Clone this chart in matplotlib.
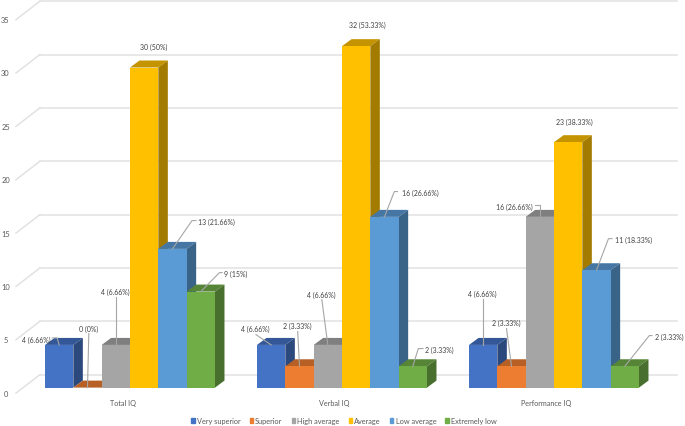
import matplotlib
matplotlib.use("Agg")
import matplotlib.pyplot as plt
from matplotlib.patches import Patch
from matplotlib.colors import to_rgb

plt.rcParams['font.family'] = ['Lato', 'DejaVu Sans']

groups = ["Total IQ", "Verbal IQ", "Performance IQ"]
series = ["Very superior", "Superior", "High average", "Average", "Low average", "Extremely low"]
colors = ["#4472C4", "#ED7D31", "#A5A5A5", "#FFC000", "#5B9BD5", "#70AD47"]

very_superior = [4, 4, 4]
superior = [0, 2, 2]
high_average = [4, 4, 16]
average = [30, 32, 23]
low_average = [13, 16, 11]
extremely_low = [9, 2, 2]
values = [very_superior, superior, high_average, average, low_average, extremely_low]

very_superior_txt = ["4 (6.66%)", "4 (6.66%)", "4 (6.66%)"]
superior_txt = ["0 (0%)", "2 (3.33%)", "2 (3.33%)"]
high_average_txt = ["4 (6.66%)", "4 (6.66%)", "16 (26.66%)"]
average_txt = ["30 (50%)", "32 (53.33%)", "23 (38.33%)"]
low_average_txt = ["13 (21.66%)", "16 (26.66%)", "11 (18.33%)"]
extremely_low_txt = ["9 (15%)", "2 (3.33%)", "2 (3.33%)"]
texts = [very_superior_txt, superior_txt, high_average_txt, average_txt, low_average_txt, extremely_low_txt]

yticks = [0, 5, 10, 15, 20, 25, 30, 35]

# pixel scale of the picture
W, H = 685, 427
PX_UNIT = 10.67    # pixels per IQ count
PX_GROUP = 212     # pixels between groups
FLOOR = 388.6      # pixel row of value 0 on the front plane
GROUP0 = 130       # pixel column of first group centre
BAR = 28.33 / PX_GROUP
DX = 9.5 / PX_GROUP
DY = 7 / PX_UNIT


def ox(px):
    return px / PX_GROUP


def oy(px):
    return -px / PX_UNIT


fig = plt.figure(figsize=(W / 100, H / 100), dpi=100)
ax = fig.add_axes([0, 0, 1, 1])
ax.set_xlim(-GROUP0 / PX_GROUP, (W - GROUP0) / PX_GROUP)
ax.set_ylim((FLOOR - H) / PX_UNIT, FLOOR / PX_UNIT)
ax.axis('off')

# back wall and floor lines
left = ox(40 - GROUP0)
right = ox(677 - GROUP0)
for v in yticks:
    yb = v + 13 / PX_UNIT
    ax.plot([left, right], [yb, yb], color="#E2E2E2", lw=1.1, zorder=1)
    ax.plot([ox(16 - GROUP0), left], [v - 5.5 / PX_UNIT, yb], color="#E2E2E2", lw=1.1, zorder=1)
    ax.text(ox(5.5 - GROUP0), v - 5.5 / PX_UNIT, str(v), color="#595959", fontsize=5.4,
            ha='center', va='center', zorder=5)

# left to right so each bar covers the side of the one before
z = 2
for g in range(len(groups)):
    for s in range(len(series)):
        v = values[s][g]
        x0 = g + (s - 3) * BAR
        x1 = x0 + BAR
        c = to_rgb(colors[s])
        top = tuple(i * 0.77 for i in c)
        side = tuple(i * 0.64 for i in c)
        ax.fill([x0, x1, x1 + DX, x0 + DX], [v, v, v + DY, v + DY], color=top, lw=0, zorder=z)
        ax.fill([x1, x1 + DX, x1 + DX, x1], [0, DY, v + DY, v], color=side, lw=0, zorder=z)
        ax.fill([x0, x1, x1, x0], [0, 0, v, v], color=c, lw=0, zorder=z)
        z += 0.01

# label offset from the top centre of each bar (pixels): text, then leader bends
label_pos = [
    [((-23, -6), [(-2, -7), (-7, -7)]), ((1, -59.5), [(1.3, -54)]), ((-1, -53.6), [(0, -48)]),
     ((10, -21.3), []), ((43.5, -27.8), [(19.5, -28.3), (23.5, -28.3)]), ((35.2, -18), [(18.7, -19), (21.2, -19)])],
    [((-16.2, -16.6), [(-15.2, -10.3)]), ((-1.8, -40.4), [(-1.8, -34.7)]), ((-6.5, -50.6), [(-6, -45.3)]),
     ((11.5, -21.6), []), ((35.5, -24.6), [(9.8, -25.3), (13, -25.3)]), ((26.5, -16.7), [(5.5, -17.7), (10.2, -17.7)])],
    [((-0.5, -52), [(0, -46.3)]), ((-5.2, -44), [(-5, -37.7)]), ((-25.8, -10.6), [(0, -11.8), (-4.8, -11.8)]),
     ((5.8, -20.3), []), ((37.2, -30.6), [(12, -31.6), (15.5, -31.6)]), ((44.5, -30), [(24.5, -30.7), (27.2, -30.7)])],
]

for g in range(len(groups)):
    for s in range(len(series)):
        xc = g + (s - 2.5) * BAR
        v = values[s][g]
        (tx, ty), bends = label_pos[g][s]
        if bends:
            xs = [xc] + [xc + ox(b[0]) for b in bends]
            ys = [v] + [v + oy(b[1]) for b in bends]
            ax.plot(xs, ys, color="#A6A6A6", lw=0.8, zorder=4)
        ax.text(xc + ox(tx), v + oy(ty), texts[s][g], color="#404040", fontsize=5.0,
                ha='center', va='center', zorder=5)
    ax.text(g + ox(-7.5), oy(404 - FLOOR), groups[g], color="#595959", fontsize=5.2,
            ha='center', va='center')

handles = [Patch(color=c, label=n) for c, n in zip(colors, series)]
ax.legend(handles=handles, ncol=6, frameon=False, loc='center', fontsize=5.3,
          bbox_to_anchor=(344 / W, 1 - 421.8 / H), handlelength=0.45, handleheight=0.6,
          handletextpad=0.3, columnspacing=1.25, labelcolor="#595959", borderpad=0)

fig.savefig("out.png", dpi=100)
